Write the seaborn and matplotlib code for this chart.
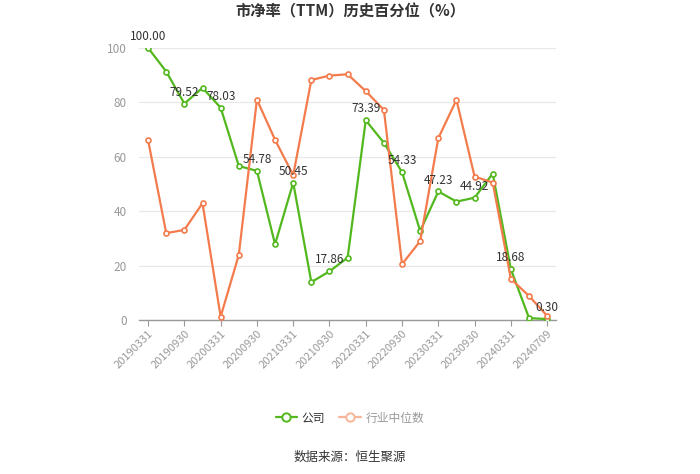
import matplotlib
matplotlib.use("Agg")
import matplotlib.pyplot as plt
import seaborn as sns
import pandas as pd
from matplotlib.lines import Line2D

dates = ["20190331", "20190630", "20190930", "20191231", "20200331", "20200630",
         "20200930", "20201231", "20210331", "20210630", "20210930", "20211231",
         "20220331", "20220630", "20220930", "20221231", "20230331", "20230630",
         "20230930", "20231231", "20240331", "20240630", "20240709"]
company = [100.00, 91.3, 79.52, 85.3, 78.03, 56.6, 54.78, 27.8, 50.45, 13.9, 17.86, 22.9,
           73.39, 65.1, 54.33, 32.7, 47.23, 43.5, 44.92, 53.8, 18.68, 0.7, 0.30]
industry = [66.1, 31.9, 33.1, 42.9, 1.2, 23.9, 81.0, 66.2, 53.2, 88.2, 89.8, 90.3,
            84.1, 77.2, 20.5, 29.0, 66.8, 80.9, 52.7, 50.5, 15.1, 8.8, 1.5]
series_names = ["公司", "行业中位数"]
title = "市净率（TTM）历史百分位（%）"
source = "数据来源：恒生聚源"

sns.set_theme(style="white")
plt.rcParams["font.family"] = ["Noto Sans CJK SC", "DejaVu Sans"]

GREEN = "#52B81E"
ORANGE = "#F37B4C"

idx = list(range(len(dates)))
df = pd.DataFrame({
    "i": idx * 2,
    "v": company + industry,
    "s": [series_names[0]] * len(dates) + [series_names[1]] * len(dates),
})

fig = plt.figure(figsize=(7.0, 4.74), dpi=100)
ax = fig.add_axes([0.1986, 0.325, 0.596, 0.574])

sns.lineplot(data=df, x="i", y="v", hue="s", palette=[GREEN, ORANGE], ax=ax,
             linewidth=1.6, marker="o", markersize=3.6, markerfacecolor="white",
             markeredgewidth=1.2, legend=False, sort=False)
for ln, c in zip(ax.lines, [GREEN, ORANGE]):
    ln.set_markeredgecolor(c)
if len(ax.lines) >= 2:
    ax.lines[0].set_zorder(3)
    ax.lines[1].set_zorder(4)

for i in range(0, len(dates), 2):
    ax.annotate(f"{company[i]:.2f}", (i, company[i]), xytext=(0, 3.5),
                textcoords="offset points", ha="center", va="bottom",
                fontsize=8.5, color="#333333", zorder=6)

ax.set_xlim(-0.5, 22.5)
ax.set_ylim(0, 100)
ax.set_yticks([0, 20, 40, 60, 80, 100])
ax.set_yticklabels(["0", "20", "40", "60", "80", "100"], color="#999999", fontsize=8.5)
ax.set_xticks(idx[::2])
ax.set_xticklabels(dates[::2], rotation=45, ha="right", rotation_mode="anchor",
                   color="#999999", fontsize=8)
ax.tick_params(axis="x", length=4, color="#999999", width=0.8, pad=2, bottom=True)
ax.tick_params(axis="y", length=0, pad=9)
ax.grid(axis="y", color="#E8E8E8", linewidth=0.9)
ax.set_axisbelow(True)
for sp in ["top", "right", "left"]:
    ax.spines[sp].set_visible(False)
ax.spines["bottom"].set_color("#999999")
ax.spines["bottom"].set_linewidth(1.0)
ax.set_xlabel("")
ax.set_ylabel("")

fig.text(0.5, 0.975, title, ha="center", va="center", fontsize=11,
         fontweight="bold", color="#333333")

handles = [
    Line2D([], [], color=GREEN, marker="o", markerfacecolor="white",
           markeredgecolor=GREEN, markersize=6, linewidth=1.6, markeredgewidth=1.4),
    Line2D([], [], color="#F9B59A", marker="o", markerfacecolor="white",
           markeredgecolor="#F9B59A", markersize=6, linewidth=1.6, markeredgewidth=1.4),
]
leg = fig.legend(handles, series_names, loc="center", bbox_to_anchor=(0.5, 0.118),
                 ncol=2, frameon=False, fontsize=8.5, handlelength=1.8,
                 handletextpad=0.4, columnspacing=1.2)
leg.get_texts()[0].set_color("#333333")
leg.get_texts()[1].set_color("#999999")

fig.text(0.5, 0.034, source, ha="center", va="center", fontsize=9, color="#333333")

fig.savefig("out.png", dpi=100, facecolor="white")
